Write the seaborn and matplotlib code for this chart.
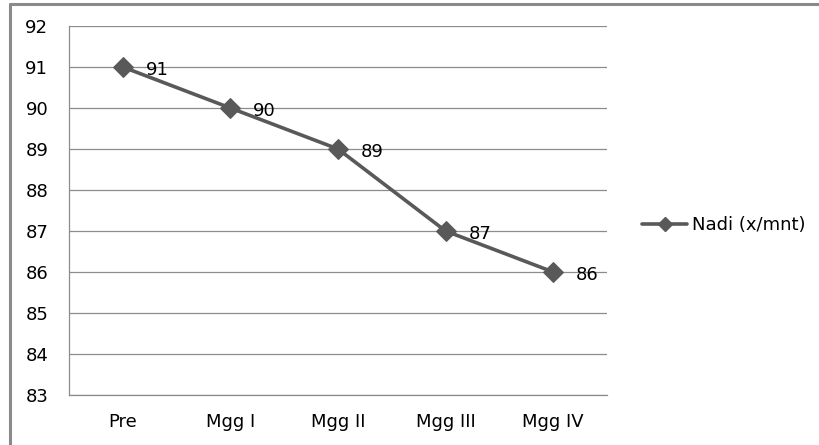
import matplotlib
matplotlib.use("Agg")
import matplotlib.pyplot as plt
from matplotlib.lines import Line2D
import seaborn as sns
import pandas as pd

categories = ["Pre", "Mgg I", "Mgg II", "Mgg III", "Mgg IV"]
nadi = [91, 90, 89, 87, 86]
series_name = "Nadi (x/mnt)"
y_ticks = [83, 84, 85, 86, 87, 88, 89, 90, 91, 92]

sns.set_style("white")
plt.rcParams["font.family"] = ["DejaVu Sans"]
plt.rcParams["text.color"] = "black"

df = pd.DataFrame({"Tahap": categories, "Nadi": nadi})
df["pos"] = range(len(categories))

fig = plt.figure(figsize=(8.19, 4.45), dpi=100)
ax = fig.add_axes([69 / 819, 1 - 395 / 445, (607 - 69) / 819, (395 - 26) / 445])

line_color = "#595959"
grid_color = "#8c8c8c"
fs = 13

sns.lineplot(data=df, x="pos", y="Nadi", ax=ax, color=line_color, linewidth=2.6,
             marker="D", markersize=10, markeredgecolor=line_color,
             label=series_name, legend=False)

for xi, yi in zip(df["pos"], df["Nadi"]):
    ax.annotate(f"{yi}", (xi, yi), xytext=(16.5, -2), textcoords="offset points",
                ha="left", va="center", fontsize=fs, color="black")

ax.set_xlim(-0.5, len(categories) - 0.5)
ax.set_ylim(y_ticks[0], y_ticks[-1])
ax.set_xticks(range(len(categories)))
ax.set_xticklabels(categories)
ax.set_yticks(y_ticks)
ax.set_xlabel("")
ax.set_ylabel("")
ax.tick_params(axis="both", length=0, labelsize=fs, colors="black")
ax.tick_params(axis="y", pad=15)
ax.tick_params(axis="x", pad=13)

ax.yaxis.grid(True, color=grid_color, linewidth=0.9)
ax.set_axisbelow(True)
for side in ["top", "right"]:
    ax.spines[side].set_visible(False)
for side in ["left", "bottom"]:
    ax.spines[side].set_color(grid_color)
    ax.spines[side].set_linewidth(0.9)

handle = Line2D([0], [0], color=line_color, linewidth=2.6, marker="D",
                markersize=7, markeredgecolor=line_color)
leg = fig.legend([handle], [series_name], loc="center left",
                 bbox_to_anchor=(642 / 819, 1 - 225 / 445), frameon=False,
                 fontsize=fs, handlelength=2.5, handletextpad=0.25,
                 borderaxespad=0, borderpad=0)
for t in leg.get_texts():
    t.set_color("black")

# chart area frame (top and left edges)
frame_color = "#8a8a8a"
fig.add_artist(Line2D([10 / 819, 10 / 819], [0, 1 - 3.5 / 445],
                      transform=fig.transFigure, color=frame_color, linewidth=2.2))
fig.add_artist(Line2D([10 / 819, 1], [1 - 3.5 / 445, 1 - 3.5 / 445],
                      transform=fig.transFigure, color=frame_color, linewidth=2.2))

fig.savefig("out.png", dpi=100)
